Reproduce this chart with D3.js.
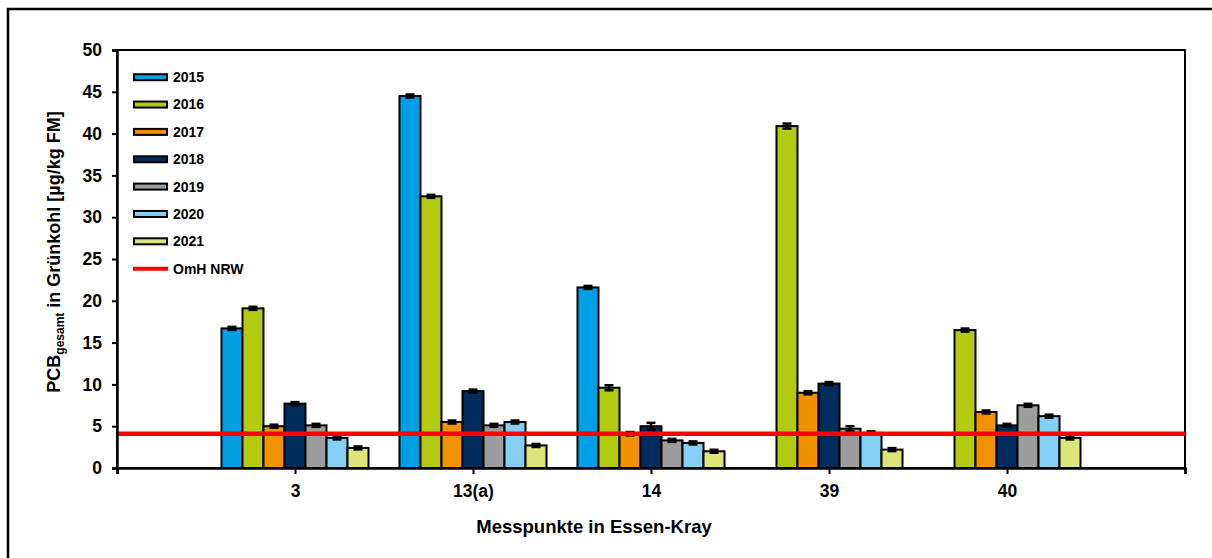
<!DOCTYPE html>
<html>
<head>
<meta charset="utf-8">
<script src="https://cdn.jsdelivr.net/npm/d3@7"></script>
<style>
  html, body { margin: 0; padding: 0; background: #fff; }
  svg { display: block; font-family: "Liberation Sans", Arial, sans-serif; }
</style>
</head>
<body>
<svg id="chart" width="1212" height="558"></svg>
<script>
// ---- data ----
const categories = ["3", "13(a)", "14", "39", "40"];
const years = ["2015", "2016", "2017", "2018", "2019", "2020", "2021"];
const v2015 = [16.7, 44.5, 21.6, null, null];
const v2016 = [19.1, 32.5, 9.6, 40.9, 16.5];
const v2017 = [5.0, 5.5, 4.1, 9.0, 6.7];
const v2018 = [7.7, 9.2, 5.0, 10.1, 5.1];
const v2019 = [5.1, 5.1, 3.3, 4.7, 7.5];
const v2020 = [3.6, 5.5, 3.0, 4.2, 6.2];
const v2021 = [2.4, 2.7, 2.0, 2.2, 3.6];
const e2015 = [0.18, 0.18, 0.18, null, null];
const e2016 = [0.18, 0.18, 0.3, 0.3, 0.18];
const e2017 = [0.18, 0.18, 0.2, 0.18, 0.18];
const e2018 = [0.18, 0.18, 0.4, 0.18, 0.18];
const e2019 = [0.18, 0.18, 0.18, 0.3, 0.18];
const e2020 = [0.18, 0.18, 0.18, 0.18, 0.18];
const e2021 = [0.18, 0.18, 0.18, 0.18, 0.18];
const omhNRW = 4.1;
const yTicks = [0, 5, 10, 15, 20, 25, 30, 35, 40, 45, 50];
const colors = ["#009fe3", "#b2ca0f", "#f39200", "#002d5e", "#9d9d9d", "#84cff3", "#dce47a"];

const seriesValues = [v2015, v2016, v2017, v2018, v2019, v2020, v2021];
const seriesErrors = [e2015, e2016, e2017, e2018, e2019, e2020, e2021];

// ---- layout ----
const svg = d3.select("#chart");
const L = 117, R = 1185, T = 50, B = 468;

// outer frame
svg.append("rect").attr("x", 8).attr("y", 9).attr("width", 1212).attr("height", 560)
  .attr("fill", "none").attr("stroke", "#000").attr("stroke-width", 2.5);

const x = d3.scaleLinear().domain([0, categories.length + 1]).range([L, R]);
const y = d3.scaleLinear().domain([0, 50]).range([B, T]);

const unit = x(1) - x(0);
const groupW = unit * 0.826;
const slot = d3.scaleBand().domain(years).range([-groupW / 2, groupW / 2]).padding(0);

// plot frame (top/right)
svg.append("rect").attr("x", L).attr("y", T).attr("width", R - L).attr("height", B - T)
  .attr("fill", "none").attr("stroke", "#000").attr("stroke-width", 2);

// bars
const g = svg.append("g");
seriesValues.forEach((vals, si) => {
  vals.forEach((v, ci) => {
    if (v == null) return;
    const cx = x(ci + 1) + slot(years[si]);
    g.append("rect")
      .attr("x", cx).attr("y", y(v))
      .attr("width", slot.bandwidth()).attr("height", y(0) - y(v))
      .attr("fill", colors[si]).attr("stroke", "#000").attr("stroke-width", 2);
  });
});
// error bars
seriesValues.forEach((vals, si) => {
  vals.forEach((v, ci) => {
    if (v == null) return;
    const e = seriesErrors[si][ci] || 0;
    const mx = x(ci + 1) + slot(years[si]) + slot.bandwidth() / 2;
    const eg = g.append("g").attr("stroke", "#000").attr("stroke-width", 2.5);
    eg.append("line").attr("x1", mx).attr("x2", mx).attr("y1", y(v - e)).attr("y2", y(v + e));
    eg.append("line").attr("x1", mx - 4.5).attr("x2", mx + 4.5).attr("y1", y(v + e)).attr("y2", y(v + e));
    eg.append("line").attr("x1", mx - 4.5).attr("x2", mx + 4.5).attr("y1", y(v - e)).attr("y2", y(v - e));
  });
});

// OmH NRW line
svg.append("line").attr("x1", x(0)).attr("x2", x(categories.length + 1))
  .attr("y1", y(omhNRW)).attr("y2", y(omhNRW))
  .attr("stroke", "#ff0000").attr("stroke-width", 4.5);

// y axis
const yAxis = d3.axisLeft(y).tickValues(yTicks).tickSize(5).tickPadding(10).tickFormat(d3.format("d"));
const ya = svg.append("g").attr("transform", `translate(${L},0)`).call(yAxis);
ya.select(".domain").attr("stroke-width", 2.5);
ya.selectAll(".tick line").attr("stroke-width", 2);
ya.selectAll("text").attr("font-size", 17.5).attr("font-weight", "bold").attr("fill", "#000")
  .attr("font-family", "Liberation Sans, Arial, sans-serif");

// x axis
const xAxis = d3.axisBottom(x).tickValues(d3.range(0, categories.length + 2)).tickSize(6).tickPadding(11)
  .tickFormat(d => (d >= 1 && d <= categories.length) ? categories[d - 1] : "");
const xa = svg.append("g").attr("transform", `translate(0,${B})`).call(xAxis);
xa.select(".domain").attr("stroke-width", 2.5);
xa.selectAll(".tick line").attr("stroke-width", 2);
xa.selectAll("text").attr("font-size", 17.5).attr("font-weight", "bold").attr("fill", "#000")
  .attr("font-family", "Liberation Sans, Arial, sans-serif");

// axis titles
svg.append("text").attr("x", 594).attr("y", 533).attr("text-anchor", "middle")
  .attr("font-size", 18.5).attr("font-weight", "bold").text("Messpunkte in Essen-Kray");

const yt = svg.append("text").attr("transform", "translate(60,252) rotate(-90)")
  .attr("text-anchor", "middle").attr("font-size", 18).attr("font-weight", "bold");
yt.append("tspan").text("PCB");
yt.append("tspan").attr("font-size", 12).attr("dy", 4).text("gesamt");
yt.append("tspan").attr("dy", -4).text(" in Grünkohl [µg/kg FM]");

// legend
const lg = svg.append("g");
const legY0 = 77.2, legStep = 27.35;
years.forEach((yr, i) => {
  const cy = legY0 + i * legStep;
  lg.append("rect").attr("x", 134).attr("y", cy - 3).attr("width", 33).attr("height", 6)
    .attr("fill", colors[i]).attr("stroke", "#000").attr("stroke-width", 2);
  lg.append("text").attr("x", 173).attr("y", cy).attr("dy", "0.35em")
    .attr("font-size", 14).attr("font-weight", "bold").text(yr);
});
const oy = legY0 + years.length * legStep;
lg.append("line").attr("x1", 133).attr("x2", 168).attr("y1", oy).attr("y2", oy)
  .attr("stroke", "#ff0000").attr("stroke-width", 4);
lg.append("text").attr("x", 173).attr("y", oy).attr("dy", "0.35em")
  .attr("font-size", 14).attr("font-weight", "bold").text("OmH NRW");
</script>
</body>
</html>
